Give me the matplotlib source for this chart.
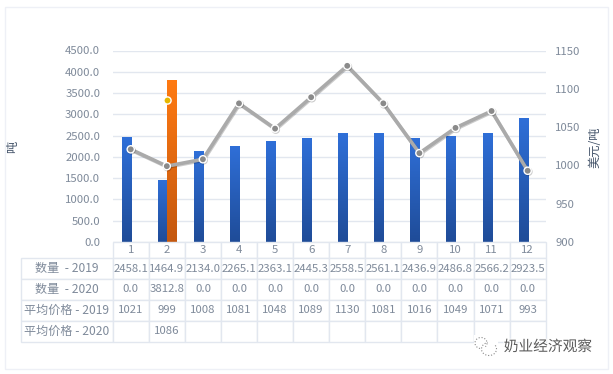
import numpy as np
import matplotlib
matplotlib.use('Agg')
import matplotlib.pyplot as plt
import matplotlib.patheffects as pe
from matplotlib.patches import Rectangle, Arc

plt.rcParams['font.family'] = ['Noto Sans CJK SC', 'DejaVu Sans']

months = ['1', '2', '3', '4', '5', '6', '7', '8', '9', '10', '11', '12']
qty_2019 = [2458.1, 1464.9, 2134.0, 2265.1, 2363.1, 2445.3, 2558.5, 2561.1, 2436.9, 2486.8, 2566.2, 2923.5]
qty_2020 = [0.0, 3812.8, 0.0, 0.0, 0.0, 0.0, 0.0, 0.0, 0.0, 0.0, 0.0, 0.0]
price_2019 = [1021, 999, 1008, 1081, 1048, 1089, 1130, 1081, 1016, 1049, 1071, 993]
price_2020 = [None, 1086, None, None, None, None, None, None, None, None, None, None]
row_labels = ['数量  - 2019', '数量  - 2020', '平均价格 - 2019', '平均价格 - 2020']
left_ticks = [0, 500, 1000, 1500, 2000, 2500, 3000, 3500, 4000, 4500]
right_ticks = [900, 950, 1000, 1050, 1100, 1150]

W, H = 613, 374
GREY = '#7f8a9a'
LINE = '#e2e7ef'


def px_axes(x0, y0, x1, y1):
    return fig.add_axes([x0 / W, 1 - y1 / H, (x1 - x0) / W, (y1 - y0) / H])


def gradient_bars(ax, x, vals, width, top, bottom):
    cmap = matplotlib.colors.LinearSegmentedColormap.from_list('g', [top, bottom])
    grad = np.linspace(0, 1, 64).reshape(-1, 1)
    bars = ax.bar(x, vals, width=width, color=top, zorder=2)
    for b in bars:
        if b.get_height() == 0:
            continue
        im = ax.imshow(grad, cmap=cmap, aspect='auto', zorder=2.1,
                       extent=[b.get_x(), b.get_x() + b.get_width(), 0, b.get_height()])
        im.set_clip_path(b)


fig = plt.figure(figsize=(W / 100, H / 100), dpi=100)

# outer frame, axis titles and watermark live on a pixel-sized overlay
bg = fig.add_axes([0, 0, 1, 1])
bg.set_xlim(0, W)
bg.set_ylim(H, 0)
bg.axis('off')
bg.set_zorder(5)
bg.add_patch(Rectangle((4.5, 7), 603.5, 362, fill=False, ec='#eef0f6', lw=1))

ax = px_axes(112.7, 50.5, 545.7, 242)
x = np.arange(len(months))
gradient_bars(ax, x - 0.125, qty_2019, 0.25, '#2f6fd8', '#1f4c98')
gradient_bars(ax, x + 0.125, qty_2020, 0.25, '#ff7a12', '#c4580f')
ax.set_xlim(-0.5, 11.5)
ax.set_ylim(0, 4500)
ax.set_yticks(left_ticks)
ax.set_yticklabels([f'{t:.1f}' for t in left_ticks], color=GREY, fontsize=8.2)
ax.set_xticks([])
ax.tick_params(axis='y', length=0, pad=9)
ax.grid(axis='y', color=LINE, lw=1)
ax.set_axisbelow(True)
for s in ax.spines.values():
    s.set_visible(False)

ax2 = ax.twinx()
ax2.plot(x, price_2019, color='#aaaaaa', lw=2.6, marker='o', ms=5.2, mfc='#8a8a8a',
         mec='white', mew=1,
         path_effects=[pe.SimpleLineShadow(offset=(0.5, -0.7), alpha=0.2), pe.Normal()])
ax2.plot(x, [np.nan if v is None else v for v in price_2020], ls='none', marker='o', ms=5.2,
         mfc='#e6b800', mec='white', mew=1)
ax2.set_ylim(900, 1150)
ax2.set_yticks(right_ticks)
ax2.set_yticklabels([str(t) for t in right_ticks], color=GREY, fontsize=8.2)
ax2.tick_params(axis='y', length=0, pad=7)
for s in ax2.spines.values():
    s.set_visible(False)

bg.text(13, 147, '吨', rotation=90, ha='center', va='center', color='#44546a', fontsize=8.8)
bg.text(595, 147, '美元/吨', rotation=90, ha='center', va='center', color='#44546a', fontsize=8.8)

# data table under the chart
tab_ax = px_axes(20.7, 242, 545.7, 342)
tab_ax.axis('off')
rows = [[''] + months,
        [row_labels[0]] + [f'{v:.1f}' for v in qty_2019],
        [row_labels[1]] + [f'{v:.1f}' for v in qty_2020],
        [row_labels[2]] + [str(v) for v in price_2019],
        [row_labels[3]] + ['' if v is None else str(v) for v in price_2020]]
col_w = [92.0] + [36.08] * 12
row_h = [16, 21, 21, 20.5, 21.5]
tb = tab_ax.table(cellText=rows, colWidths=[c / 525 for c in col_w], cellLoc='center',
                  bbox=[0, 0, 1, 1])
tb.auto_set_font_size(False)
for (r, c), cell in tb.get_celld().items():
    cell.set_height(row_h[r] / 100)
    cell.set_edgecolor(LINE)
    cell.set_linewidth(1)
    cell.PAD = 0.01
    cell.get_text().set_color(GREY)
    cell.get_text().set_fontsize(8.2)
    if c == 0:
        cell._loc = 'left'
        cell.PAD = 0.058 if r < 3 else 0.025
        cell.get_text().set_fontsize(8.7)
tb[(0, 0)].visible_edges = ''

# watermark
bg.text(548, 347, '奶业经济观察', ha='center', va='center', fontsize=10.6, color='#5a5a5a',
        path_effects=[pe.withStroke(linewidth=1.5, foreground='white')])
bg.add_patch(Rectangle((474, 335), 24, 22, fc='white', ec='none'))
bg.add_patch(Arc((481, 343), 12, 11, theta1=100, theta2=400, ec='#8a8a8a', lw=0.8, ls=':'))
bg.add_patch(Arc((489, 349), 15, 13, theta1=330, theta2=260, ec='#8a8a8a', lw=0.8, ls=':'))

fig.savefig('out.png', dpi=100)
